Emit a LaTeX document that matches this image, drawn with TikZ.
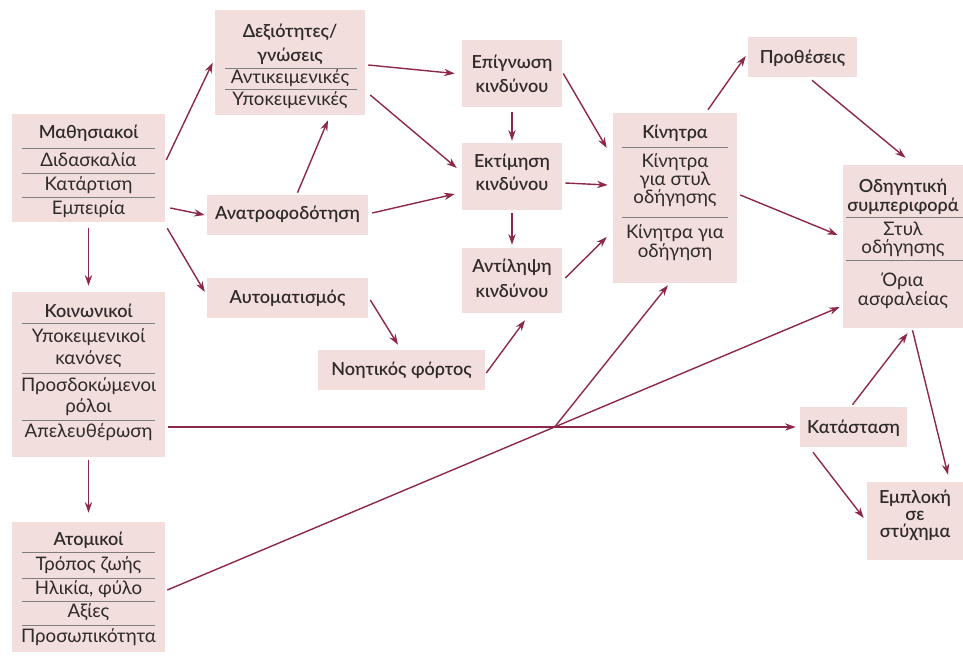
\documentclass[tikz,border=0pt]{standalone}
\usepackage{fontspec}
\IfFontExistsTF{Lato Semibold}{\setmainfont{Lato}[BoldFont={Lato Semibold}]}{\setmainfont{Lato}}
\usetikzlibrary{arrows.meta,calc}
\definecolor{boxfill}{RGB}{242,222,220}
\definecolor{arr}{RGB}{140,40,72}
\definecolor{txt}{RGB}{48,43,43}
\definecolor{sepc}{RGB}{130,125,125}
\begin{document}
\begin{tikzpicture}[x=0.75pt,y=-0.75pt,
 bx/.style 2 args={fill=boxfill,draw=none,inner sep=0pt,minimum width={#1*0.75pt},minimum height={#2*0.75pt}},
 t/.style={inner sep=0pt,text=txt,font=\fontsize{14}{16}\selectfont,text height=8pt,text depth=0pt},
 tb/.style={t,font=\fontsize{13.5}{16}\selectfont\bfseries},
 sp/.style={draw=sepc,line width=0.7pt},
 ar/.style={draw=arr,line width=1.05pt,-{Stealth[length=8pt,width=5.5pt]}}]
\useasboundingbox (0,0) rectangle (963,657);
% boxes
\node[bx={153}{108}] (math) at (88.5,168) {};
\node[bx={150}{105}] (dex) at (290,62.5) {};
\node[bx={153}{165}] (koin) at (88.5,374.5) {};
\node[bx={153}{130}] (atom) at (88.5,587) {};
\node[bx={161}{40}] (anat) at (287.5,215) {};
\node[bx={161}{40}] (auto) at (287.5,298) {};
\node[bx={167}{40}] (noit) at (401.5,370) {};
\node[bx={100}{67}] (epig) at (512,73.5) {};
\node[bx={100}{67}] (ekt) at (512,176.5) {};
\node[bx={100}{65}] (antl) at (512,280.5) {};
\node[bx={124}{170}] (kin) at (675,198) {};
\node[bx={109}{40}] (prov) at (802.5,57) {};
\node[bx={125}{163}] (odig) at (905.5,246.5) {};
\node[bx={107}{40}] (kat) at (853.5,427) {};
\node[bx={96}{78}] (emp) at (915,521) {};
% separators
\draw[sp] (22,148) -- (155,148) (22,173) -- (155,173) (22,197) -- (155,197);
\draw[sp] (225,68) -- (357,68) (225,89) -- (357,89);
\draw[sp] (22,323) -- (155,323) (22,373) -- (155,373) (22,420) -- (155,420);
\draw[sp] (22,552) -- (155,552) (22,578) -- (155,578) (22,601) -- (155,601) (22,625) -- (155,625);
\draw[sp] (622,147) -- (728,147) (622,217) -- (728,217);
\draw[sp] (846,217) -- (963,217) (846,260) -- (963,260);
% texts
\node[tb] (m1) at (88.5,133) {Μαθησιακοί};
\node[t] (m2) at (88.5,161) {Διδασκαλία};
\node[t] (m3) at (88.5,185) {Κατάρτιση};
\node[t] (m4) at (88.5,209) {Εμπειρία};
\node[tb] (d1) at (290,32) {Δεξιότητες/};
\node[tb] (d2) at (290,56) {γνώσεις};
\node[t] (d3) at (290,78) {Αντικειμενικές};
\node[t] (d4) at (290,100) {Υποκειμενικές};
\node[tb] (k1) at (88.5,312) {Κοινωνικοί};
\node[t] (k2) at (88.5,337) {Υποκειμενικοί};
\node[t] (k3) at (88.5,359) {κανόνες};
\node[t] (k4) at (88.5,386) {Προσδοκώμενοι};
\node[t] (k5) at (88.5,407) {ρόλοι};
\node[t] (k6) at (88.5,432) {Απελευθέρωση};
\node[tb] (a1) at (88.5,540) {Ατομικοί};
\node[t] (a2) at (88.5,565) {Τρόπος ζωής};
\node[t] (a3) at (88.5,589) {Ηλικία, φύλο};
\node[t] (a4) at (88.5,612) {Αξίες};
\node[t] (a5) at (88.5,637) {Προσωπικότητα};
\node[tb] (an1) at (287.5,214) {Ανατροφοδότηση};
\node[tb] (au1) at (287.5,298) {Αυτοματισμός};
\node[tb] (n1) at (401.5,370) {Νοητικός φόρτος};
\node[tb] (e1) at (512,63) {Επίγνωση};
\node[tb] (e2) at (512,87) {κινδύνου};
\node[tb] (x1) at (512,162) {Εκτίμηση};
\node[tb] (x2) at (512,185) {κινδύνου};
\node[tb] (l1) at (512,267) {Αντίληψη};
\node[tb] (l2) at (512,292) {κινδύνου};
\node[tb] (ki1) at (675,133) {Κίνητρα};
\node[t] (ki2) at (675,162) {Κίνητρα};
\node[t] (ki3) at (675,180) {για στυλ};
\node[t] (ki4) at (675,198) {οδήγησης};
\node[t] (ki5) at (675,233) {Κίνητρα για};
\node[t] (ki6) at (675,252) {οδήγηση};
\node[tb] (p1) at (802.5,58) {Προθέσεις};
\node[tb] (o1) at (903,187) {Οδηγητική};
\node[tb] (o2) at (903,206) {συμπεριφορά};
\node[t] (o3) at (903,230) {Στυλ};
\node[t] (o4) at (903,248) {οδήγησης};
\node[t] (o5) at (903,281) {Όρια};
\node[t] (o6) at (903,300) {ασφαλείας};
\node[tb] (ka1) at (853.5,428) {Κατάσταση};
\node[tb] (em1) at (915,498) {Εμπλοκή};
\node[tb] (em2) at (915,515) {σε};
\node[tb] (em3) at (915,532) {στύχημα};
% connector end points
\coordinate (koinO) at ($(koin.east)+(3,52.5)$);
\coordinate (katI) at ($(kat.west)+(-4,0)$);
\coordinate (atomO) at ($(atom.east)+(2,3)$);
\coordinate (odigI) at ($(odig.west)+(-3,60.5)$);
\coordinate (cross) at (intersection of koinO--katI and atomO--odigI);
% connectors
\draw[ar] ($(math.east)+(1,-8)$) -- ($(dex.west)+(-2,0)$);
\draw[ar] ($(math.east)+(5,40)$) -- ($(anat.west)+(-2,0)$);
\draw[ar] ($(math.south east)+(2,6)$) -- ($(auto.west)+(-2,-6)$);
\draw[ar] ($(math.south)+(0,6)$) -- ($(koin.north)+(0,-6)$);
\draw[ar] ($(koin.south)+(0,3)$) -- ($(atom.north)+(0,-9)$);
\draw[ar] ($(anat.north)+(10,-2)$) -- ($(dex.south)+(38,5)$);
\draw[ar] ($(dex.east)+(3,2.5)$) -- ($(epig.west)+(-7,0)$);
\draw[ar] ($(dex.east)+(5,32.5)$) -- ($(ekt.west)+(-5,-8.5)$);
\draw[ar] ($(anat.east)+(4,-2)$) -- ($(ekt.west)+(-7,17.5)$);
\draw[ar] ($(auto.east)+(2,2)$) -- ($(noit.north)+(-3.5,-5)$);
\draw[ar] ($(noit.east)+(1,3)$) -- ($(antl.south)+(13,7)$);
\draw[ar] ($(epig.south)+(0,5)$) -- ($(ekt.north)+(0,-2)$);
\draw[ar] ($(ekt.south)+(0,3)$) -- ($(antl.north)+(0,-3)$);
\draw[ar] ($(epig.east)+(1,0)$) -- ($(kin.west)+(-6,-50)$);
\draw[ar] ($(ekt.east)+(3,6.5)$) -- ($(kin.west)+(-5,-13)$);
\draw[ar] ($(antl.east)+(3,-2.5)$) -- ($(kin.west)+(-6,39)$);
\draw[ar] ($(kin.north)+(33,-3)$) -- ($(prov.west)+(-2,-1)$);
\draw[ar] ($(prov.south)+(9.5,3)$) -- ($(odig.north)+(0,-7)$);
\draw[ar] ($(kin.east)+(3,-3)$) -- ($(odig.west)+(-5,-11.5)$);
\draw[ar] (koinO) -- (katI);
\draw[ar] (atomO) -- (odigI);
\draw[ar] (cross) -- ($(kin.south)+(-7,2)$);
\draw[ar] ($(kat.north)+(-1,-2)$) -- ($(odig.south)+(2,5)$);
\draw[ar] ($(odig.south)+(7,2)$) -- ($(emp.north)+(33,-7)$);
\draw[ar] ($(kat.south)+(-40.5,5)$) -- ($(emp.west)+(-3,-3)$);
\end{tikzpicture}
\end{document}
